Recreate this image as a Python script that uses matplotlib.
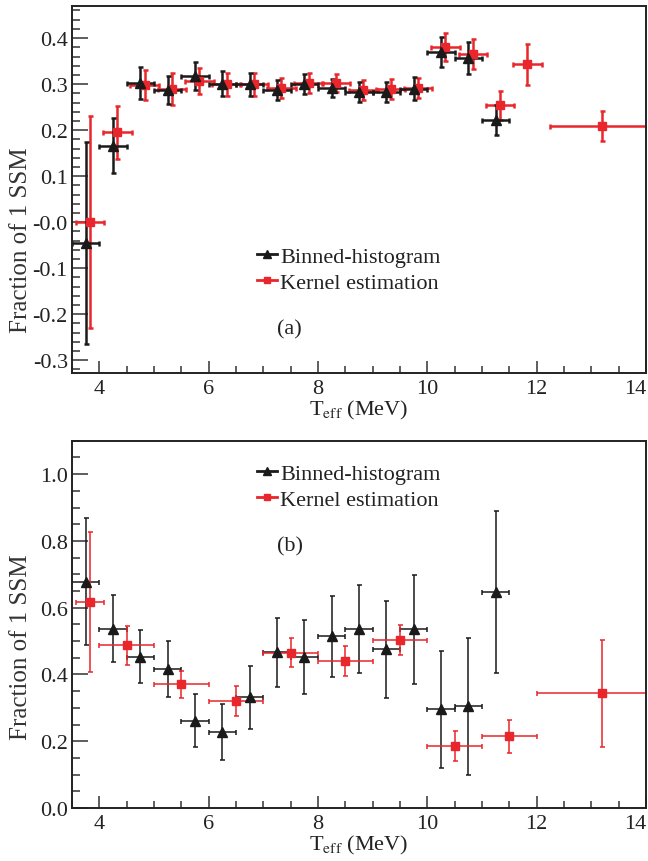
import matplotlib
matplotlib.use('Agg')
import matplotlib.pyplot as plt
from matplotlib.ticker import MultipleLocator
from matplotlib.lines import Line2D

plt.rcParams['font.family'] = ['Liberation Serif', 'DejaVu Serif']
plt.rcParams['mathtext.fontset'] = 'stix'

# Panel (a) data
a_bh_x = [3.75, 4.25, 4.75, 5.25, 5.75, 6.25, 6.75, 7.25, 7.75, 8.25, 8.75, 9.25, 9.75, 10.25, 10.75, 11.25]
a_bh_xerr = [0.25] * 16
a_bh_y = [-0.045, 0.166, 0.302, 0.287, 0.317, 0.301, 0.300, 0.288, 0.301, 0.292, 0.283, 0.283, 0.290, 0.370, 0.356, 0.222]
a_bh_yerr = [0.22, 0.06, 0.035, 0.03, 0.03, 0.027, 0.025, 0.022, 0.022, 0.02, 0.022, 0.022, 0.025, 0.032, 0.035, 0.032]

a_ke_x = [3.83, 4.33, 4.83, 5.33, 5.83, 6.33, 6.83, 7.33, 7.83, 8.33, 8.83, 9.33, 9.83, 10.33, 10.83, 11.33, 11.83, 13.2]
a_ke_xerr = [0.26, 0.26, 0.26, 0.26, 0.26, 0.26, 0.26, 0.26, 0.26, 0.26, 0.26, 0.26, 0.26, 0.26, 0.26, 0.26, 0.26, 0.95]
a_ke_y = [0.0, 0.195, 0.298, 0.29, 0.307, 0.30, 0.30, 0.292, 0.302, 0.303, 0.287, 0.289, 0.292, 0.381, 0.365, 0.254, 0.343, 0.209]
a_ke_yerr = [0.23, 0.057, 0.032, 0.035, 0.028, 0.025, 0.025, 0.022, 0.022, 0.02, 0.022, 0.022, 0.022, 0.03, 0.032, 0.032, 0.045, 0.033]

# Panel (b) data
b_bh_x = a_bh_x
b_bh_xerr = a_bh_xerr
b_bh_y = [0.678, 0.537, 0.453, 0.415, 0.262, 0.227, 0.331, 0.466, 0.452, 0.514, 0.537, 0.475, 0.535, 0.296, 0.305, 0.648]
b_bh_yerr = [0.19, 0.10, 0.08, 0.084, 0.08, 0.084, 0.093, 0.103, 0.112, 0.122, 0.132, 0.145, 0.163, 0.175, 0.205, 0.243]

b_ke_x = [3.83, 4.5, 5.5, 6.5, 7.5, 8.5, 9.5, 10.5, 11.5, 13.2]
b_ke_xerr = [0.26, 0.5, 0.5, 0.5, 0.5, 0.5, 0.5, 0.5, 0.5, 1.2]
b_ke_y = [0.617, 0.487, 0.37, 0.32, 0.465, 0.44, 0.502, 0.186, 0.215, 0.343]
b_ke_yerr = [0.21, 0.058, 0.04, 0.044, 0.044, 0.044, 0.045, 0.045, 0.05, 0.161]

a_yticks = [-0.3, -0.2, -0.1, 0.0, 0.1, 0.2, 0.3, 0.4]
a_ylabels = ['-0.3', '-0.2', '-0.1', '-0.0', '0.1', '0.2', '0.3', '0.4']
b_yticks = [0.0, 0.2, 0.4, 0.6, 0.8, 1.0]
b_ylabels = ['0.0', '0.2', '0.4', '0.6', '0.8', '1.0']
xticks = [4, 6, 8, 10, 12, 14]

black = '#1a1a1a'
red = '#e8262b'
fs = 16

fig = plt.figure(figsize=(6.48, 8.62), dpi=100)
ax1 = fig.add_axes([0.111, 0.566, 0.886, 0.426])
ax2 = fig.add_axes([0.111, 0.0615, 0.886, 0.426])


def style(ax, yticks, ylabels, yminor, ylim, labely):
    ax.set_xlim(3.5, 14)
    ax.set_ylim(*ylim)
    ax.set_xticks(xticks)
    ax.set_xticklabels([str(t) for t in xticks])
    ax.get_xticklabels()[-1].set_horizontalalignment('right')
    ax.set_yticks(yticks)
    ax.set_yticklabels(ylabels)
    ax.xaxis.set_minor_locator(MultipleLocator(0.5))
    ax.yaxis.set_minor_locator(MultipleLocator(yminor))
    ax.tick_params(which='both', direction='in', top=False, right=False,
                   labelsize=fs, width=1.1, color='#333333', labelcolor='#222222')
    ax.tick_params(axis='y', which='major', length=11.5, pad=3)
    ax.tick_params(axis='y', which='minor', length=6)
    ax.tick_params(axis='x', which='major', length=8.5, pad=4)
    ax.tick_params(axis='x', which='minor', length=5)
    for s in ax.spines.values():
        s.set_linewidth(1.4)
        s.set_color('#222222')
    ax.set_xlabel(r'T$_{\rm eff}$ (MeV)', fontsize=fs, labelpad=0, color='#222222')
    ax.set_ylabel('Fraction of 1 SSM', fontsize=18, color='#333333')
    ax.yaxis.set_label_coords(-0.07, labely)


def add_legend(ax, y):
    handles = [Line2D([], [], color=black, marker='^', ms=6, lw=2),
               Line2D([], [], color=red, marker='s', ms=5, lw=2)]
    ax.legend(handles, ['Binned-histogram', 'Kernel estimation'], loc='upper left',
              bbox_to_anchor=(0.322, y), frameon=False, fontsize=fs, handlelength=0.9,
              handletextpad=0.15, labelspacing=0.25, borderpad=0, borderaxespad=0,
              labelcolor='#222222')


# Panel (a)
ax1.errorbar(a_ke_x, a_ke_y, xerr=a_ke_xerr, yerr=a_ke_yerr, fmt='s', color=red,
             ms=6, elinewidth=1.8, capsize=1.8, capthick=1.8)
ax1.errorbar(a_bh_x, a_bh_y, xerr=a_bh_xerr, yerr=a_bh_yerr, fmt='^', color=black,
             ms=7, elinewidth=1.8, capsize=1.8, capthick=1.8)
style(ax1, a_yticks, a_ylabels, 0.02, (-0.328, 0.47), 0.365)
add_legend(ax1, 0.345)
ax1.text(0.357, 0.12, '(a)', transform=ax1.transAxes, fontsize=fs, va='center', color='#222222')

# Panel (b)
ax2.errorbar(b_bh_x, b_bh_y, xerr=b_bh_xerr, yerr=b_bh_yerr, fmt='^', color=black,
             ms=7, elinewidth=1.1, capsize=1.8, capthick=1.1)
ax2.errorbar(b_ke_x, b_ke_y, xerr=b_ke_xerr, yerr=b_ke_yerr, fmt='s', color=red,
             ms=6, elinewidth=1.1, capsize=1.8, capthick=1.1)
style(ax2, b_yticks, b_ylabels, 0.05, (0, 1.1), 0.44)
add_legend(ax2, 0.939)
ax2.text(0.357, 0.713, '(b)', transform=ax2.transAxes, fontsize=fs, va='center', color='#222222')

fig.savefig('out.png', dpi=100)
